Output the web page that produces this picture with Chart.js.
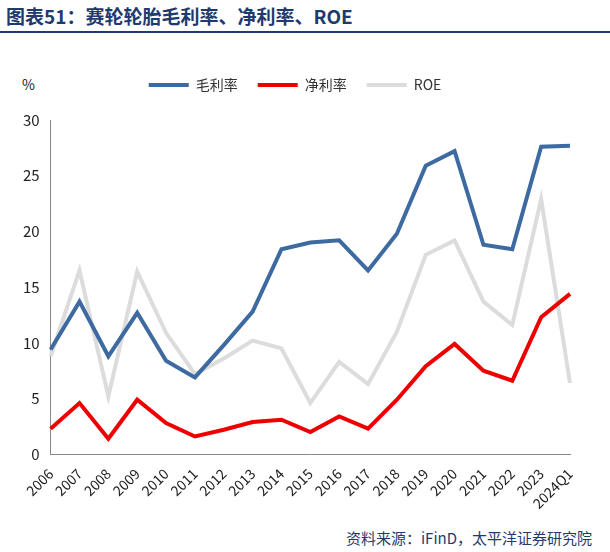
<!DOCTYPE html>
<html>
<head>
<meta charset="utf-8">
<script src="https://cdn.jsdelivr.net/npm/chart.js@4"></script>
<style>
  body { margin: 0; width: 610px; height: 552px; background: #fff; font-family: "Noto Sans CJK SC", sans-serif; position: relative; }
  #title { position: absolute; left: 6px; top: 2px; font-size: 19px; font-weight: bold; color: #1f3a6e; }
  #rule { position: absolute; left: 0; top: 31px; width: 610px; height: 2px; background: #1f3a6e; }
  #unit { position: absolute; left: 22px; top: 74px; font-size: 14px; color: #222; }
  #src { position: absolute; right: 18px; top: 527px; font-size: 15px; color: #1f3a6e; }
  #wrap { position: absolute; left: 0; top: 48px; width: 600px; height: 467px; }
</style>
</head>
<body>
<div id="title">图表51：赛轮轮胎毛利率、净利率、ROE</div>
<div id="rule"></div>
<div id="unit">%</div>
<div id="wrap"><canvas id="c"></canvas></div>
<div id="src">资料来源：iFinD，太平洋证券研究院</div>
<script>
var categories = ["2006","2007","2008","2009","2010","2011","2012","2013","2014","2015","2016","2017","2018","2019","2020","2021","2022","2023","2024Q1"];
var grossMargin = [9.4,13.7,8.8,12.7,8.4,6.9,9.8,12.8,18.4,19.0,19.2,16.5,19.8,25.9,27.2,18.8,18.4,27.6,27.7];
var netMargin = [2.3,4.6,1.4,4.9,2.8,1.6,2.2,2.9,3.1,2.0,3.4,2.3,4.9,7.9,9.9,7.5,6.6,12.3,14.4];
var roe = [8.8,16.5,5.2,16.4,10.9,7.2,8.6,10.2,9.5,4.6,8.3,6.3,11.0,17.9,19.2,13.7,11.6,22.9,6.4];

Chart.defaults.font.family = "'Noto Sans CJK SC', sans-serif";
Chart.defaults.color = "#222";

// make room under the legend
var legendGap = {
  id: "legendGap",
  beforeInit: function (chart) {
    var orig = chart.legend.fit;
    chart.legend.fit = function () {
      orig.bind(chart.legend)();
      this.height += 18;
    };
  }
};

new Chart(document.getElementById("c"), {
  type: "line",
  data: {
    labels: categories,
    datasets: [
      { label: "毛利率", data: grossMargin, borderColor: "#3d6aa0", borderWidth: 4, pointRadius: 0, tension: 0 },
      { label: "净利率", data: netMargin, borderColor: "#ee0000", borderWidth: 4, pointRadius: 0, tension: 0 },
      { label: "ROE", data: roe, borderColor: "#dcdcdc", borderWidth: 4, pointRadius: 0, tension: 0 }
    ]
  },
  options: {
    responsive: true,
    maintainAspectRatio: false,
    animation: false,
    layout: { padding: { left: 20, right: 30, top: 10, bottom: 0 } },
    plugins: {
      legend: {
        labels: { boxWidth: 40, boxHeight: 4, font: { size: 14 }, color: "#333", padding: 20,
          generateLabels: function (chart) {
            return chart.data.datasets.map(function (d, i) {
              return { text: d.label, fillStyle: d.borderColor, strokeStyle: d.borderColor, lineWidth: 0, datasetIndex: i, fontColor: "#333" };
            });
          }
        }
      },
      tooltip: { enabled: false }
    },
    scales: {
      x: {
        grid: { display: false },
        border: { color: "#888" },
        ticks: { maxRotation: 45, minRotation: 45, font: { size: 14 }, color: "#222", autoSkip: false }
      },
      y: {
        min: 0, max: 30,
        ticks: { stepSize: 5, font: { size: 15 }, color: "#222" },
        grid: { display: false },
        border: { color: "#888" }
      }
    }
  },
  plugins: [legendGap]
});
</script>
</body>
</html>
